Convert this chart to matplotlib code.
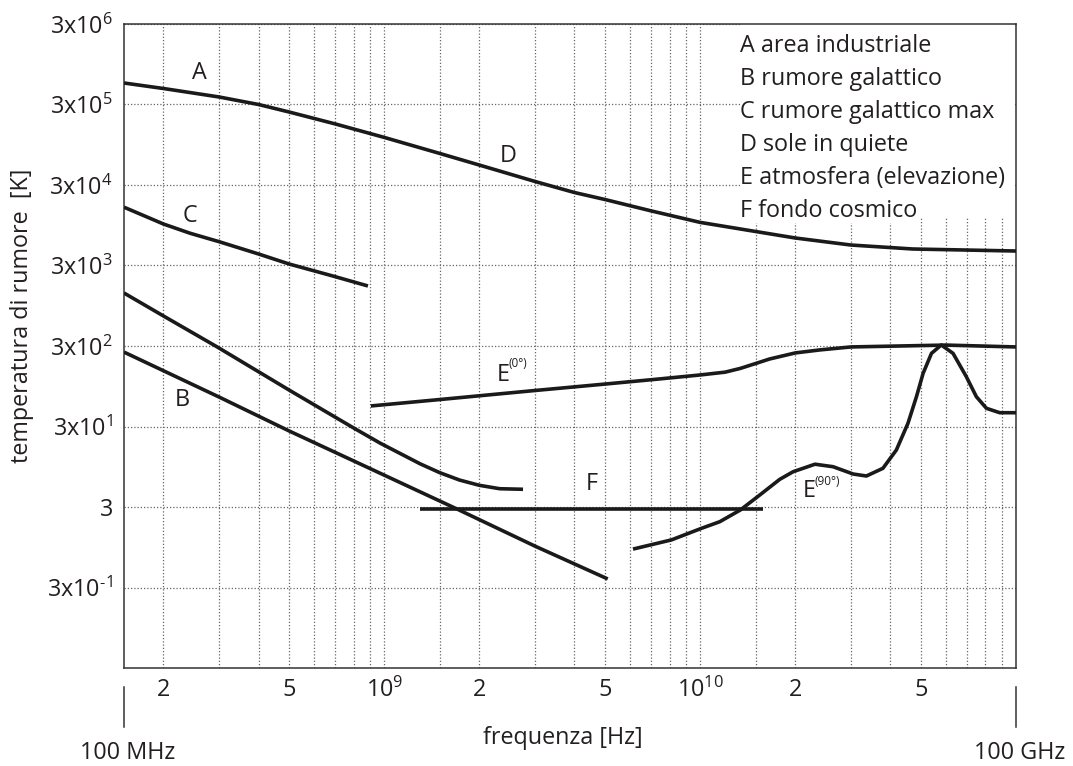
import matplotlib
matplotlib.use("Agg")

import matplotlib.pyplot as plt
from matplotlib.patches import Rectangle
from matplotlib.ticker import NullFormatter, NullLocator

plt.rcParams['font.family'] = ['Open Sans', 'DejaVu Sans']
plt.rcParams['mathtext.default'] = 'regular'

# curve A / D (area industriale -> sole in quiete), Hz / K
freq_AD = [1.5e8, 2e8, 3e8, 4e8, 5e8, 7e8, 1e9, 1.5e9, 2e9, 3e9, 4e9, 5e9,
           7e9, 1e10, 1.5e10, 2e10, 3e10, 4.71e10, 1e11]
temp_AD = [5.55e5, 4.74e5, 3.72e5, 3.0e5, 2.42e5, 1.72e5, 1.17e5, 7.39e4,
           5.31e4, 3.32e4, 2.42e4, 1.98e4, 1.43e4, 1.03e4, 7.93e3, 6.59e3,
           5.39e3, 4.81e3, 4.54e3]

# curve C (rumore galattico max)
freq_C = [1.5e8, 2e8, 2.43e8, 3e8, 4e8, 5e8, 6.88e8, 8.88e8]
temp_C = [1.59e4, 9.83e3, 7.54e3, 5.93e3, 4.17e3, 3.13e3, 2.22e3, 1.67e3]

# second galactic curve (unlabelled, above B)
freq_G = [1.5e8, 2e8, 2.95e8, 5e8, 7.9e8, 9.69e8, 1.3e9, 1.5e9, 1.73e9,
          2e9, 2.32e9, 2.75e9]
temp_G = [1366, 708, 294, 85, 29.6, 18.7, 10.3, 8.0, 6.49, 5.58, 5.06, 4.98]

# curve B (rumore galattico)
freq_B = [1.5e8, 3e8, 5e8, 8.38e8, 1.7e9, 3e9, 5.1e9]
temp_B = [252, 69.7, 26.4, 10.3, 2.83, 0.98, 0.383]

# curve E, elevazione 0 gradi
freq_E0 = [9.07e8, 1.5e9, 3e9, 5e9, 7.45e9, 1e10, 1.2e10, 1.34e10, 1.5e10,
           1.66e10, 2e10, 2.39e10, 3e10, 6e10, 1e11]
temp_E0 = [54, 64.9, 84.0, 101, 117, 131, 142, 158, 182, 207, 246, 268, 292,
           308, 292]

# curve E, elevazione 90 gradi
freq_E90 = [6.13e9, 8.11e9, 1.01e10, 1.154e10, 1.34e10, 1.545e10, 1.787e10,
            1.97e10, 2.31e10, 2.635e10, 3.05e10, 3.36e10, 3.79e10, 4.18e10,
            4.55e10, 4.84e10, 5.08e10, 5.40e10, 5.80e10, 6.32e10, 6.96e10,
            7.49e10, 8.06e10, 8.88e10, 1e11]
temp_E90 = [0.90, 1.17, 1.63, 1.97, 2.75, 4.23, 6.62, 8.23, 10.2, 9.5, 7.71,
            7.28, 9.07, 15.3, 32.9, 70.4, 137, 243, 309, 243, 125, 70.4, 50.5,
            44.5, 44.5]

# curve F (fondo cosmico)
freq_F = [1.30e9, 1.58e10]
temp_F = [2.8, 2.8]

x_major = [2e8, 5e8, 1e9, 2e9, 5e9, 1e10, 2e10, 5e10]
x_major_labels = ['2', '5', '10$^{9}$', '2', '5', '10$^{10}$', '2', '5']
x_minor = [3e8, 4e8, 6e8, 7e8, 8e8, 9e8,
           1.5e9, 3e9, 4e9, 6e9, 7e9, 8e9, 9e9,
           1.5e10, 3e10, 4e10, 6e10, 7e10, 8e10, 9e10]
y_ticks = [3e-1, 3, 3e1, 3e2, 3e3, 3e4, 3e5, 3e6]
y_labels = ['3x10$^{\u20101}$', '3', '3x10$^{1}$', '3x10$^{2}$', '3x10$^{3}$',
            '3x10$^{4}$', '3x10$^{5}$', '3x10$^{6}$']

legend_lines = ['A area industriale', 'B rumore galattico',
                'C rumore galattico max', 'D sole in quiete',
                'E atmosfera (elevazione)', 'F fondo cosmico']

txt = '#231f20'
ink = '#1a1a1a'
fs = 16.8

fig = plt.figure(figsize=(10.73, 7.66), dpi=100)
ax = fig.add_axes([124 / 1073, 98 / 766, 892 / 1073, 644 / 766])
ax.set_xscale('log')
ax.set_yscale('log')
ax.set_xlim(1.5e8, 1e11)
ax.set_ylim(3e-2, 3e6)

ax.set_xticks(x_major, x_major_labels)
ax.set_xticks(x_minor, minor=True)
ax.xaxis.set_minor_formatter(NullFormatter())
ax.set_yticks(y_ticks, y_labels)
ax.yaxis.set_minor_locator(NullLocator())
ax.tick_params(which='both', length=0, labelsize=fs, labelcolor=txt)
ax.tick_params(axis='x', pad=7)
ax.tick_params(axis='y', pad=8)

grid_style = dict(linestyle=(0, (1, 1.6)), color='#666666', lw=0.9)
ax.grid(True, axis='x', which='both', **grid_style)
ax.grid(True, axis='y', which='major', **grid_style)
for sp in ax.spines.values():
    sp.set_color('#333333')
    sp.set_linewidth(1.1)

style = dict(color=ink, lw=2.6, solid_joinstyle='round', solid_capstyle='butt', zorder=3)
ax.plot(freq_AD, temp_AD, **style)
ax.plot(freq_C, temp_C, **style)
ax.plot(freq_G, temp_G, **style)
ax.plot(freq_B, temp_B, **style)
ax.plot(freq_E0, temp_E0, **style)
ax.plot(freq_E90, temp_E90, **style)
ax.plot(freq_F, temp_F, **style)

# etichette delle curve
lab = dict(fontsize=fs, color=txt, ha='center', va='center')
ax.text(2.59e8, 7.4e5, 'A', **lab)
ax.text(2.46e9, 6.9e4, 'D', **lab)
ax.text(2.43e8, 1.24e4, 'C', **lab)
ax.text(2.29e8, 64, 'B', **lab)
ax.text(4.54e9, 5.8, 'F', **lab)
ax.text(2.27e9, 110, 'E', fontsize=fs, color=txt, ha='left', va='baseline')
ax.annotate('(0°)', (2.27e9, 110), xytext=(8.8, 10), textcoords='offset points',
            fontsize=8.5, color=txt, ha='left', va='baseline')
ax.text(2.11e10, 3.99, 'E', fontsize=fs, color=txt, ha='left', va='baseline')
ax.annotate('(90°)', (2.11e10, 3.99), xytext=(8.8, 9), textcoords='offset points',
            fontsize=8.5, color=txt, ha='left', va='baseline')

# legenda testuale in alto a destra
ax.add_patch(Rectangle((0.6928, 0.6988), 0.305, 0.3012, transform=ax.transAxes,
                       facecolor='white', edgecolor='none', zorder=1.8))
for i, line in enumerate(legend_lines):
    ax.text(0.691, 0.9565 - i * 0.05124, line, transform=ax.transAxes,
            fontsize=fs, color=txt, ha='left', va='baseline', zorder=4,
            bbox=dict(facecolor='white', edgecolor='none', pad=0))

ax.set_xlabel('frequenza [Hz]', fontsize=fs, color=txt)
ax.xaxis.set_label_coords(0.492, -0.090)
ax.set_ylabel('temperatura di rumore  [K]', fontsize=fs, color=txt)
ax.yaxis.set_label_coords(-0.101, 0.547)

# estremi della banda sotto l'asse
for xa, s in [(0.0, '100 MHz'), (1.0, '100 GHz')]:
    ax.plot([xa, xa], [-0.0295, -0.0916], transform=ax.transAxes, clip_on=False,
            color='#333333', lw=1.1)
    ax.text(xa + 0.004, -0.132, s, transform=ax.transAxes, fontsize=fs,
            color=txt, ha='center', va='center')

fig.savefig('out.png', dpi=100)
